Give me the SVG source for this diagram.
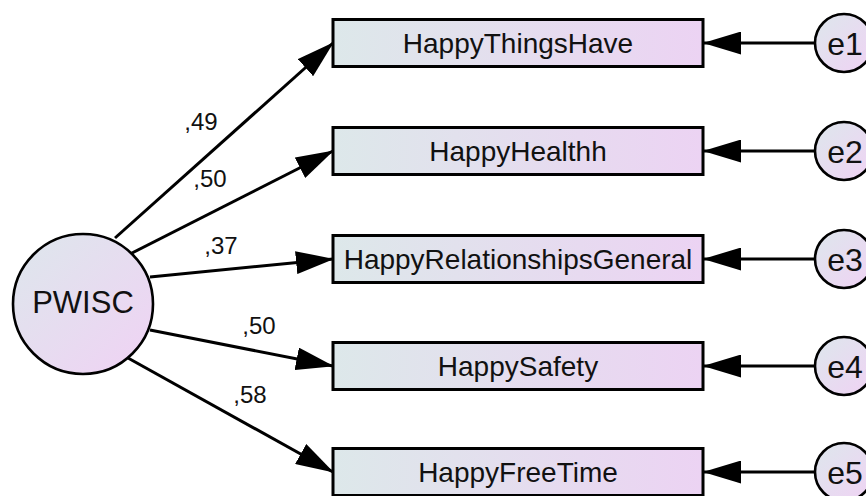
<svg xmlns="http://www.w3.org/2000/svg" width="866" height="496" viewBox="0 0 866 496">
  <defs>
    <linearGradient id="boxg" x1="0" y1="0" x2="1" y2="0">
      <stop offset="0" stop-color="#dde8ea"/>
      <stop offset="1" stop-color="#ecd3f3"/>
    </linearGradient>
    <linearGradient id="circg" x1="0" y1="0" x2="1" y2="1">
      <stop offset="0" stop-color="#dde7ec"/>
      <stop offset="1" stop-color="#f0d2f4"/>
    </linearGradient>
    <marker id="ah" viewBox="0 0 38 23" refX="37" refY="11.5" markerWidth="38" markerHeight="23" markerUnits="userSpaceOnUse" orient="auto">
      <path d="M0,0 L38,11.5 L0,23 z" fill="#000"/>
    </marker>
    <style>
      .box { fill: url(#boxg); stroke: #000; stroke-width: 3; }
      .circ { fill: url(#circg); stroke: #000; stroke-width: 2.6; }
      .lbl { font-family: "Liberation Sans", Arial, sans-serif; font-size: 28px; fill: #111; text-anchor: middle; }
      .elbl { font-family: "Liberation Sans", Arial, sans-serif; font-size: 32px; fill: #111; text-anchor: middle; }
      .big { font-family: "Liberation Sans", Arial, sans-serif; font-size: 31px; fill: #111; text-anchor: middle; }
      .coef { font-family: "Liberation Sans", Arial, sans-serif; font-size: 24px; fill: #111; text-anchor: middle; }
      .conn { stroke: #000; stroke-width: 3; fill: none; marker-end: url(#ah); }
    </style>
  </defs>

  <g id="connectors">
    <line class="conn" x1="115" y1="238" x2="333" y2="43"/>
    <line class="conn" x1="128" y1="255" x2="333" y2="151"/>
    <line class="conn" x1="150" y1="277" x2="333" y2="259"/>
    <line class="conn" x1="150" y1="330" x2="333" y2="366"/>
    <line class="conn" x1="128" y1="358" x2="333" y2="472"/>
    <line class="conn" x1="815" y1="43" x2="704" y2="43"/>
    <line class="conn" x1="815" y1="151" x2="704" y2="151"/>
    <line class="conn" x1="815" y1="259" x2="704" y2="259"/>
    <line class="conn" x1="815" y1="366" x2="704" y2="366"/>
    <line class="conn" x1="815" y1="472" x2="704" y2="472"/>
    <text class="coef" x="201" y="130">,49</text>
    <text class="coef" x="210" y="187">,50</text>
    <text class="coef" x="221" y="254">,37</text>
    <text class="coef" x="259" y="334">,50</text>
    <text class="coef" x="250" y="403">,58</text>
  </g>

  <g id="PWISC">
    <circle class="circ" cx="83" cy="304" r="70"/>
    <text class="big" x="83" y="313">PWISC</text>
  </g>

  <g id="HappyThingsHave">
    <rect class="box" x="333" y="19.5" width="370" height="47"/>
    <text class="lbl" x="518" y="53">HappyThingsHave</text>
  </g>
  <g id="HappyHealthh">
    <rect class="box" x="333" y="127.5" width="370" height="47"/>
    <text class="lbl" x="518" y="161">HappyHealthh</text>
  </g>
  <g id="HappyRelationshipsGeneral">
    <rect class="box" x="333" y="235.5" width="370" height="47"/>
    <text class="lbl" x="518" y="269">HappyRelationshipsGeneral</text>
  </g>
  <g id="HappySafety">
    <rect class="box" x="333" y="342.5" width="370" height="47"/>
    <text class="lbl" x="518" y="376">HappySafety</text>
  </g>
  <g id="HappyFreeTime">
    <rect class="box" x="333" y="448.5" width="370" height="47"/>
    <text class="lbl" x="518" y="482">HappyFreeTime</text>
  </g>

  <g id="e1">
    <circle class="circ" cx="844" cy="43" r="29"/>
    <text class="elbl" x="845" y="55">e1</text>
  </g>
  <g id="e2">
    <circle class="circ" cx="844" cy="151" r="29"/>
    <text class="elbl" x="845" y="163">e2</text>
  </g>
  <g id="e3">
    <circle class="circ" cx="844" cy="259" r="29"/>
    <text class="elbl" x="845" y="271">e3</text>
  </g>
  <g id="e4">
    <circle class="circ" cx="844" cy="366" r="29"/>
    <text class="elbl" x="845" y="378">e4</text>
  </g>
  <g id="e5">
    <circle class="circ" cx="844" cy="472" r="29"/>
    <text class="elbl" x="845" y="484">e5</text>
  </g>
</svg>
